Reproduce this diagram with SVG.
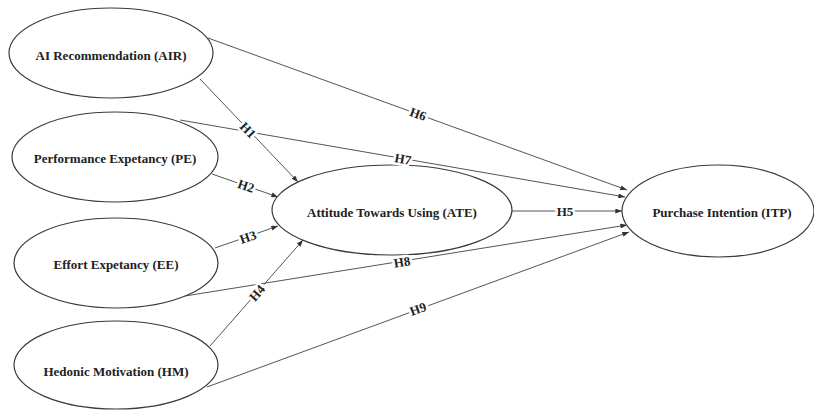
<svg xmlns="http://www.w3.org/2000/svg" width="814" height="410" viewBox="0 0 814 410">
<defs>
<marker id="arr" viewBox="0 0 8 6" refX="8" refY="3" markerWidth="7" markerHeight="5" markerUnits="userSpaceOnUse" orient="auto">
<path d="M0,0 L8,3 L0,6 Z" fill="#333"/>
</marker>
<style>
.node ellipse{fill:#fff;stroke:#3a3a3a;stroke-width:1.2}
.node text{font-family:"Liberation Serif","Times New Roman",serif;font-weight:bold;font-size:13px;fill:#222;text-anchor:middle;dominant-baseline:central}
.edge line{stroke:#555;stroke-width:1;marker-end:url(#arr)}
.lbl{font-family:"Liberation Serif","Times New Roman",serif;font-weight:bold;font-size:13px;fill:#222;text-anchor:middle;dominant-baseline:central;stroke:#fff;stroke-width:5;paint-order:stroke}
</style>
</defs>
<rect width="814" height="410" fill="#fff"/>
<g id="connectors" class="edge">
<line x1="208" y1="38" x2="627" y2="190"/>
<line x1="200" y1="79" x2="298" y2="182"/>
<line x1="180" y1="120" x2="625" y2="197"/>
<line x1="212" y1="174" x2="278" y2="197"/>
<line x1="215" y1="248" x2="278" y2="226"/>
<line x1="185" y1="296" x2="627" y2="225"/>
<line x1="210" y1="346" x2="303" y2="240"/>
<line x1="207" y1="387" x2="629" y2="232"/>
<line x1="512" y1="211" x2="622" y2="211"/>
</g>
<g id="node-AIR" class="node"><ellipse cx="111" cy="53" rx="102" ry="45"/><text x="111" y="55">AI Recommendation (AIR)</text></g>
<g id="node-PE" class="node"><ellipse cx="115" cy="157" rx="103" ry="45"/><text x="115" y="158">Performance Expetancy (PE)</text></g>
<g id="node-EE" class="node"><ellipse cx="116" cy="263" rx="102" ry="45"/><text x="116" y="264">Effort Expetancy (EE)</text></g>
<g id="node-HM" class="node"><ellipse cx="116" cy="365" rx="102" ry="44"/><text x="116" y="371">Hedonic Motivation (HM)</text></g>
<g id="node-ATE" class="node"><ellipse cx="392" cy="210" rx="120" ry="45"/><text x="392" y="212">Attitude Towards Using (ATE)</text></g>
<g id="node-ITP" class="node"><ellipse cx="718" cy="211" rx="96" ry="46"/><text x="722" y="212">Purchase Intention (ITP)</text></g>
<g id="labels">
<text class="lbl" x="248" y="130" transform="rotate(46 248 130)">H1</text>
<text class="lbl" x="246" y="186" transform="rotate(19 246 186)">H2</text>
<text class="lbl" x="248" y="237" transform="rotate(-19 248 237)">H3</text>
<text class="lbl" x="257" y="293" transform="rotate(-49 257 293)">H4</text>
<text class="lbl" x="565" y="211">H5</text>
<text class="lbl" x="418" y="114" transform="rotate(20 418 114)">H6</text>
<text class="lbl" x="403" y="159" transform="rotate(10 403 159)">H7</text>
<text class="lbl" x="402" y="262" transform="rotate(-9 402 262)">H8</text>
<text class="lbl" x="418" y="309" transform="rotate(-20 418 309)">H9</text>
</g>
</svg>
